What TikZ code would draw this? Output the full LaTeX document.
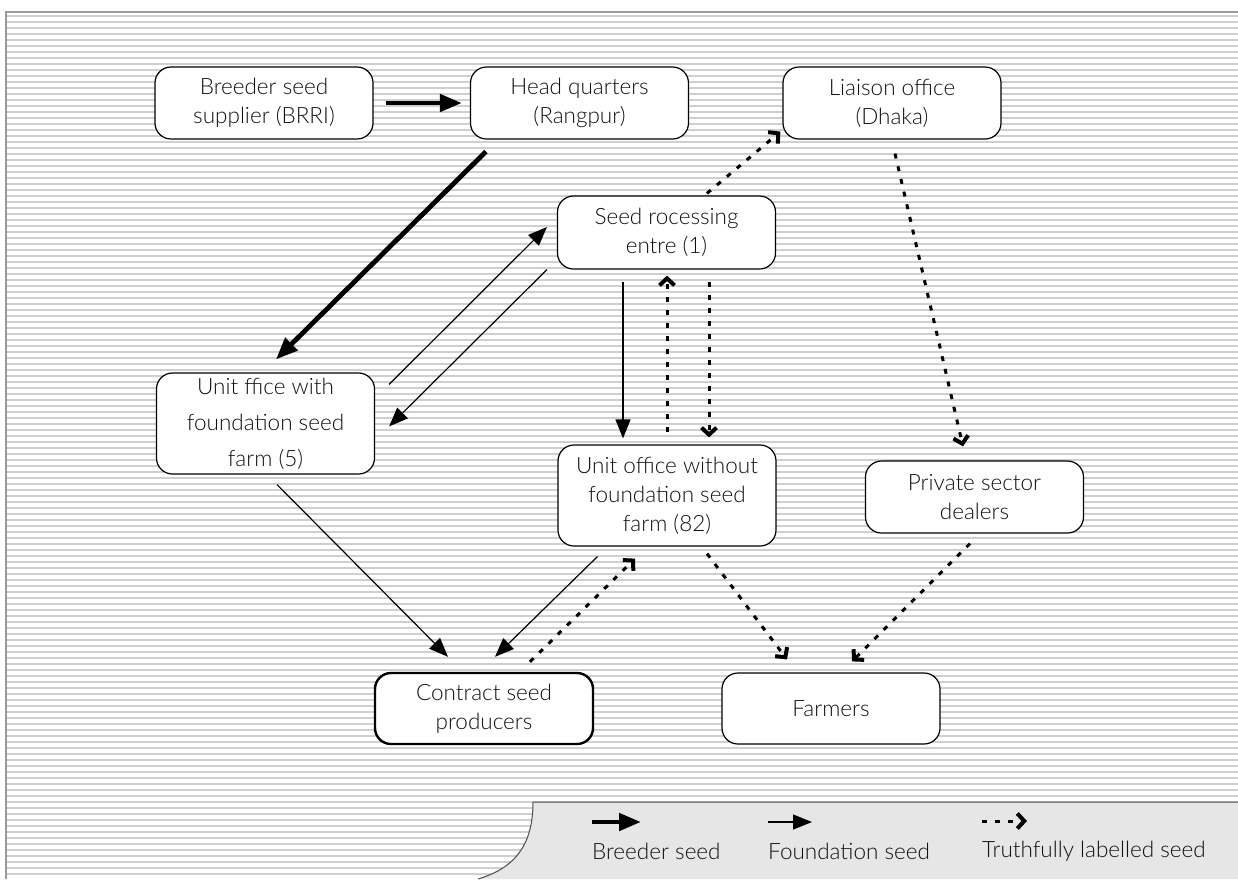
\documentclass[tikz,border=0pt]{standalone}
\usepackage{fontspec}
\setmainfont{Lato Light}
\usetikzlibrary{arrows.meta,calc}
\definecolor{stripe}{HTML}{CFCFCF}
\definecolor{frame}{HTML}{9A9A9A}
\definecolor{legfill}{HTML}{E6E6E6}
\definecolor{txt}{HTML}{111111}
\begin{document}
\begin{tikzpicture}[x=1pt,y=-1pt,
  font=\fontsize{22.5}{29}\selectfont,
  box/.style={draw=black, line width=1.2pt, fill=white, rounded corners=16pt,
    minimum width=218pt, align=center, inner sep=2pt, text=txt},
  breeder/.style={line width=4.8pt, -{Triangle[length=22pt,width=17pt]}},
  found/.style={line width=1.2pt, -{Triangle[length=19pt,width=15pt]}},
  truth/.style={line width=3pt, dash pattern=on 5pt off 8pt,
    -{Straight Barb[length=7pt,width=15pt,line width=4pt]}},
  legtext/.style={anchor=west, inner sep=0pt, text=txt}]
\useasboundingbox (0,0) rectangle (1238,879);
% striped background
\foreach \yy in {16,22,...,878} \draw[stripe, line width=1.3pt] (6,\yy) -- (1238,\yy);
\draw[frame, line width=2pt] (6,879) -- (6,12) -- (1238,12);
% legend panel
\fill[legfill] (533,802) .. controls (533,845) and (515,868) .. (478,879) -- (1238,879) -- (1238,802) -- cycle;
\draw[black!70, line width=1pt] (478,879) .. controls (515,868) and (533,845) .. (533,802) -- (1238,802);
% nodes
\node[box, minimum height=72pt] (brri) at (264,103) {Breeder seed\\supplier (BRRI)};
\node[box, minimum height=72pt] (hq) at (579.5,103) {Head quarters\\(Rangpur)};
\node[box, minimum height=72pt] (lo) at (892,103) {Liaison office\\(Dhaka)};
\node[box, minimum height=73pt] (spc) at (666.5,232.5) {Seed rocessing\\entre (1)};
\node[box, minimum height=101pt] (uw) at (265.5,423.5) {Unit ffice with\\[7pt]foundation seed\\[7pt]farm (5)};
\node[box, minimum height=101pt] (uwo) at (667,495.5) {Unit office without\\foundation seed\\farm (82)};
\node[box, minimum height=72pt] (psd) at (974.5,497) {Private sector\\dealers};
\node[box, minimum height=71pt, line width=2.4pt] (csp) at (484,708.5) {Contract seed\\producers};
\node[box, minimum height=71pt] (farm) at (831,708.5) {Farmers};
% breeder seed flows
\draw[breeder] ($(brri.east)+(12,0)$) -- ($(hq.west)+(-8,0)$);
\draw[breeder] ($(hq.south west)+(16,12)$) -- ($(uw.north)+(10.5,-13)$);
% foundation seed flows
\draw[found] ($(uw.north east)+(14,12)$) -- ($(spc.west)+(-10,-5.5)$);
\draw[found] ($(spc.south west)+(-10,0)$) -- ($(uw.north east)+(14,54)$);
\draw[found] ($(spc.south)+(-43.5,12)$) -- ($(uwo.north)+(-44,-6)$);
\draw[found] ($(uw.south)+(11.5,10)$) -- ($(csp.north)+(-36,-15)$);
\draw[found] ($(uwo.south west)+(40,10)$) -- ($(csp.north)+(11,-15)$);
% truthfully labelled seed flows
\draw[truth] ($(uwo.north)+(0,-12)$) -- ($(spc.south)+(0.5,6)$);
\draw[truth] ($(spc.south)+(42.5,12)$) -- ($(uwo.north)+(42,-7)$);
\draw[truth] ($(spc.north)+(40.5,-2)$) -- ($(lo.south west)+(-2,-8)$);
\draw[truth] ($(lo.south)+(3,14)$) -- ($(psd.north)+(-11.5,-14)$);
\draw[truth] ($(psd.south)+(-4.5,10)$) -- ($(farm.north)+(21,-11)$);
\draw[truth] ($(uwo.south)+(40,7)$) -- ($(farm.north)+(-44,-13)$);
\draw[truth] ($(csp.north)+(46,-10)$) -- ($(uwo.south)+(-32,12)$);
% legend
\coordinate (lb1) at (592,822); \coordinate (lb2) at (641,822);
\coordinate (lf1) at (768,822); \coordinate (lf2) at (812,822);
\coordinate (lt1) at (982,821); \coordinate (lt2) at (1027,821);
\draw[breeder] (lb1) -- (lb2);
\draw[found] (lf1) -- (lf2);
\draw[truth] (lt1) -- (lt2);
\node[legtext] (lbt) at (592,851) {Breeder seed};
\node[legtext] (lft) at (768,851) {Foundation seed};
\node[legtext] (ltt) at (982,851) {Truthfully labelled seed};
\end{tikzpicture}
\end{document}
